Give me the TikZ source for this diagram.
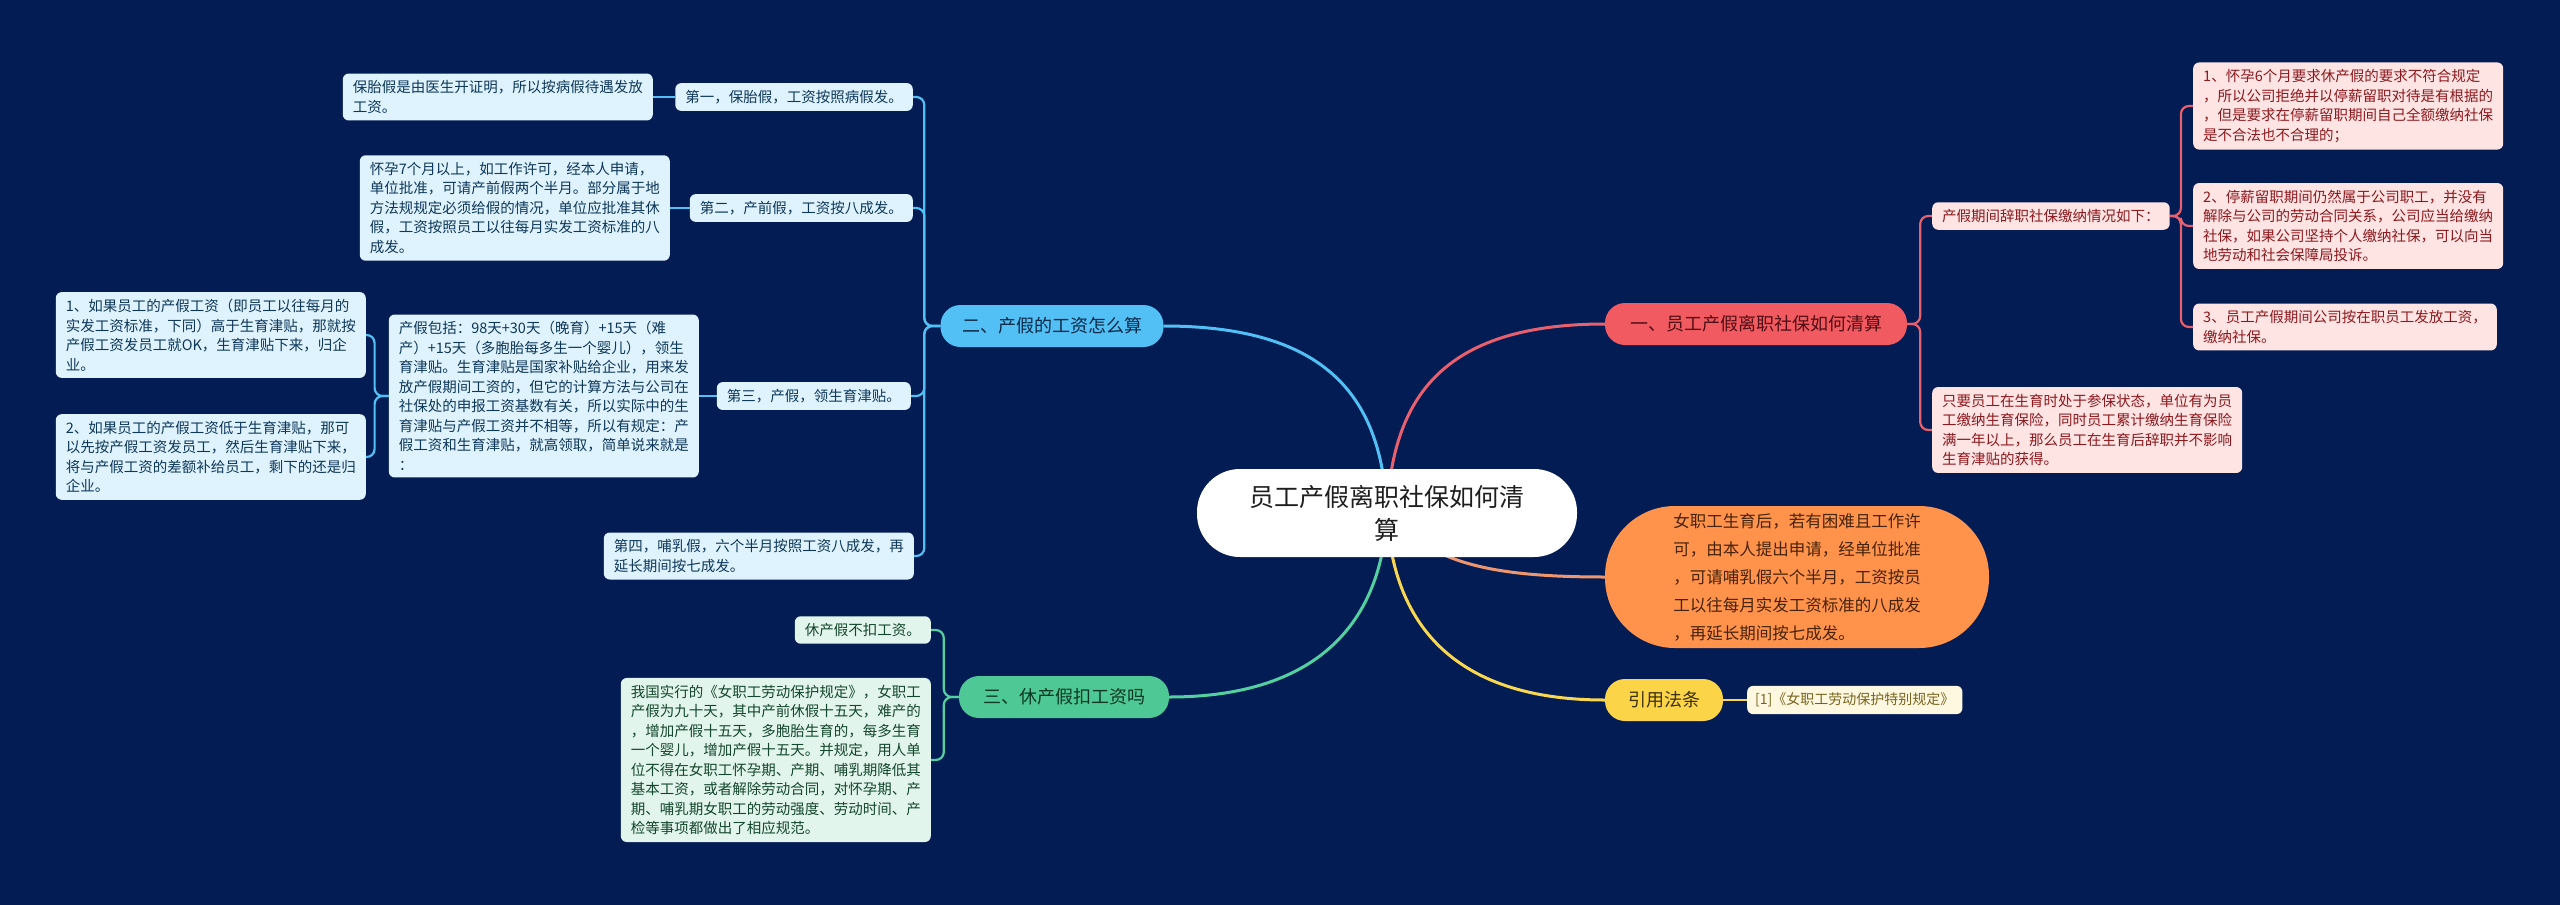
\documentclass[tikz,border=0pt]{standalone}
\usepackage{fontspec}
\setmainfont{Noto Sans CJK SC}
\pgfdeclarelayer{bgl}
\pgfdeclarelayer{edges}
\pgfsetlayers{bgl,edges,main}
\definecolor{bgcol}{RGB}{3,28,83}
\definecolor{redfill}{RGB}{241,90,96}
\definecolor{redtext}{RGB}{80,15,20}
\definecolor{redline}{RGB}{232,96,110}
\definecolor{rleaffill}{RGB}{255,228,228}
\definecolor{rleaftext}{RGB}{140,25,30}
\definecolor{bluefill}{RGB}{82,192,245}
\definecolor{bluetext}{RGB}{12,40,70}
\definecolor{bleaffill}{RGB}{222,243,253}
\definecolor{bleaftext}{RGB}{15,55,90}
\definecolor{blueline}{RGB}{82,192,245}
\definecolor{greenfill}{RGB}{78,200,148}
\definecolor{greentext}{RGB}{12,55,35}
\definecolor{gleaffill}{RGB}{226,245,236}
\definecolor{gleaftext}{RGB}{20,70,45}
\definecolor{greenline}{RGB}{84,208,160}
\definecolor{orangefill}{RGB}{255,147,76}
\definecolor{orangetext}{RGB}{70,35,10}
\definecolor{orangeline}{RGB}{240,150,110}
\definecolor{yellowfill}{RGB}{252,212,72}
\definecolor{yellowtext}{RGB}{60,50,10}
\definecolor{reffill}{RGB}{255,248,225}
\definecolor{reftext}{RGB}{120,100,30}
\definecolor{yellowline}{RGB}{250,215,80}
\definecolor{centertext}{RGB}{30,30,30}
\newcommand\leaffont{\fontsize{14.5}{19.5}\selectfont}
\newcommand\branchfont{\fontsize{18}{22}\selectfont}
\newcommand\centerfont{\fontsize{25}{33}\selectfont}
\newcommand\orangefont{\fontsize{16.5}{28}\selectfont}
\tikzset{
  leaf/.style={rounded corners=6, inner xsep=10, inner ysep=7, align=left, font=\leaffont},
  bleaf/.style={leaf, fill=bleaffill, text=bleaftext},
  rleaf/.style={leaf, fill=rleaffill, text=rleaftext},
  gleaf/.style={leaf, fill=gleaffill, text=gleaftext},
  branch/.style={rounded corners=20, minimum height=42, inner xsep=0, inner ysep=0, font=\branchfont},
  centernode/.style={fill=white, text=centertext, rounded corners=43, minimum width=380, minimum height=88, inner sep=0, align=center, font=\centerfont},
  orangenode/.style={fill=orangefill, text=orangetext, rounded corners=70, minimum width=384, minimum height=142, inner sep=0, align=left, font=\orangefont},
  mainline/.style={line width=3},
  subline/.style={line width=2.2, rounded corners=8},
}
\begin{document}
\begin{tikzpicture}[x=1pt, y=-1pt]
\useasboundingbox (0,0) rectangle (2560,905);
\begin{pgfonlayer}{bgl}
\fill[bgcol] (0,0) rectangle (2560,905);
\end{pgfonlayer}

% center
\node[centernode] (c) at (1387,513) {员工产假离职社保如何清\\算};

% branches
\node[branch, fill=redfill, text=redtext, minimum width=302] (r) at (1756,324) {一、员工产假离职社保如何清算};
\node[branch, fill=bluefill, text=bluetext, minimum width=223] (b) at (1052,326) {二、产假的工资怎么算};
\node[branch, fill=greenfill, text=greentext, minimum width=210] (g) at (1064,697) {三、休产假扣工资吗};
\node[orangenode] (o) at (1797,577) {女职工生育后，若有困难且工作许\\可，由本人提出申请，经单位批准\\，可请哺乳假六个半月，工资按员\\工以往每月实发工资标准的八成发\\，再延长期间按七成发。};
\node[branch, fill=yellowfill, text=yellowtext, minimum width=118] (y) at (1664,700) {引用法条};
\node[leaf, fill=reffill, text=reftext, anchor=west, font=\fontsize{14}{18}\selectfont, inner xsep=8] (ref) at (1747,700) {[1]《女职工劳动保护特别规定》};

% blue side
\node[bleaf, anchor=east] (p1) at (913,97) {第一，保胎假，工资按照病假发。};
\node[bleaf, anchor=east] (l1) at (653,97) {保胎假是由医生开证明，所以按病假待遇发放\\工资。};
\node[bleaf, anchor=east] (p2) at (913,208) {第二，产前假，工资按八成发。};
\node[bleaf, anchor=east] (l2) at (670,208) {怀孕7个月以上，如工作许可，经本人申请，\\单位批准，可请产前假两个半月。部分属于地\\方法规规定必须给假的情况，单位应批准其休\\假，工资按照员工以往每月实发工资标准的八\\成发。};
\node[bleaf, anchor=east] (p3) at (911,396) {第三，产假，领生育津贴。};
\node[bleaf, anchor=east] (l3) at (699,396) {产假包括：98天+30天（晚育）+15天（难\\产）+15天（多胞胎每多生一个婴儿），领生\\育津贴。生育津贴是国家补贴给企业，用来发\\放产假期间工资的，但它的计算方法与公司在\\社保处的申报工资基数有关，所以实际中的生\\育津贴与产假工资并不相等，所以有规定：产\\假工资和生育津贴，就高领取，简单说来就是\\：};
\node[bleaf, anchor=east] (l3a) at (366,335) {1、如果员工的产假工资（即员工以往每月的\\实发工资标准，下同）高于生育津贴，那就按\\产假工资发员工就OK，生育津贴下来，归企\\业。};
\node[bleaf, anchor=east] (l3b) at (366,457) {2、如果员工的产假工资低于生育津贴，那可\\以先按产假工资发员工，然后生育津贴下来，\\将与产假工资的差额补给员工，剩下的还是归\\企业。};
\node[bleaf, anchor=east] (p4) at (914,556) {第四，哺乳假，六个半月按照工资八成发，再\\延长期间按七成发。};

% green side
\node[gleaf, anchor=east] (g1) at (931,630) {休产假不扣工资。};
\node[gleaf, anchor=east] (g2) at (931,760) {我国实行的《女职工劳动保护规定》，女职工\\产假为九十天，其中产前休假十五天，难产的\\，增加产假十五天，多胞胎生育的，每多生育\\一个婴儿，增加产假十五天。并规定，用人单\\位不得在女职工怀孕期、产期、哺乳期降低其\\基本工资，或者解除劳动合同，对怀孕期、产\\期、哺乳期女职工的劳动强度、劳动时间、产\\检等事项都做出了相应规范。};

% red side
\node[rleaf, anchor=west] (rs) at (1932,216) {产假期间辞职社保缴纳情况如下：};
\node[rleaf, anchor=west] (r1) at (2193,106) {1、怀孕6个月要求休产假的要求不符合规定\\，所以公司拒绝并以停薪留职对待是有根据的\\，但是要求在停薪留职期间自己全额缴纳社保\\是不合法也不合理的；};
\node[rleaf, anchor=west] (r2) at (2193,226) {2、停薪留职期间仍然属于公司职工，并没有\\解除与公司的劳动合同关系，公司应当给缴纳\\社保，如果公司坚持个人缴纳社保，可以向当\\地劳动和社会保障局投诉。};
\node[rleaf, anchor=west] (r3) at (2193,327) {3、员工产假期间公司按在职员工发放工资，\\缴纳社保。};
\node[rleaf, anchor=west] (r4) at (1932,430) {只要员工在生育时处于参保状态，单位有为员\\工缴纳生育保险，同时员工累计缴纳生育保险\\满一年以上，那么员工在生育后辞职并不影响\\生育津贴的获得。};

\begin{pgfonlayer}{edges}
% main connectors
\draw[mainline, redline] (c.center) .. controls (1392,400) and (1440,324) .. (r.west);
\draw[mainline, blueline] (c.center) .. controls (1382,400) and (1330,326) .. (b.east);
\draw[mainline, greenline] (c.center) .. controls (1382,620) and (1320,697) .. (g.east);
\draw[mainline, yellowline] (c.center) .. controls (1392,620) and (1450,700) .. (y.west);
\draw[mainline, orangeline] (c.center) .. controls (1430,560) and (1480,577) .. (o.west);
% blue
\draw[subline, blueline] (b.west) -- ++(-16,0) |- (p1.east);
\draw[subline, blueline] (b.west) -- ++(-16,0) |- (p2.east);
\draw[subline, blueline] (b.west) -- ++(-16,0) |- (p3.east);
\draw[subline, blueline] (b.west) -- ++(-16,0) |- (p4.east);
\draw[subline, blueline] (p1.west) -- (l1.east);
\draw[subline, blueline] (p2.west) -- (l2.east);
\draw[subline, blueline] (p3.west) -- (l3.east);
\draw[subline, blueline] (l3.west) -- ++(-14,0) |- (l3a.east);
\draw[subline, blueline] (l3.west) -- ++(-14,0) |- (l3b.east);
% green
\draw[subline, greenline] (g.west) -- ++(-15,0) |- (g1.east);
\draw[subline, greenline] (g.west) -- ++(-15,0) |- (g2.east);
% red
\draw[subline, redline] (r.east) -- ++(13,0) |- (rs.west);
\draw[subline, redline] (r.east) -- ++(13,0) |- (r4.west);
\draw[subline, redline] (rs.east) -- ++(11,0) |- (r1.west);
\draw[subline, redline] (rs.east) -- ++(11,0) |- (r2.west);
\draw[subline, redline] (rs.east) -- ++(11,0) |- (r3.west);
% yellow
\draw[subline, yellowline] (y.east) -- (ref.west);
\end{pgfonlayer}
\end{tikzpicture}
\end{document}
